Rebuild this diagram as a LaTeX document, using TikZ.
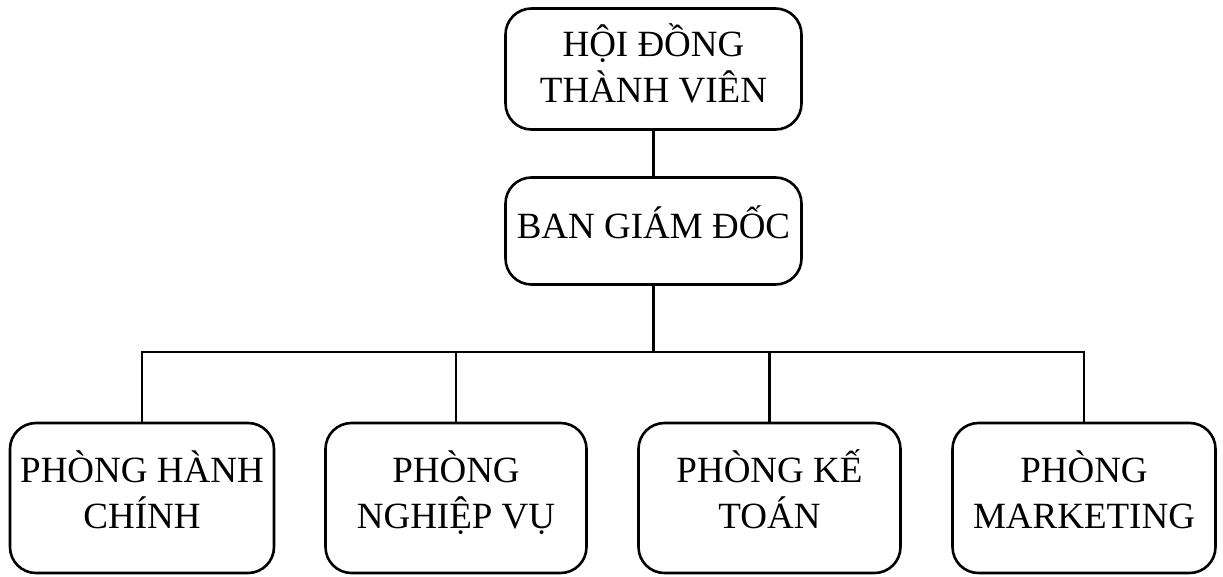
\documentclass[tikz,border=0pt]{standalone}
\usepackage{fontspec}
\setmainfont{Liberation Serif}
\begin{document}
\begin{tikzpicture}[x=1pt,y=-1pt,
  unit/.style={draw, line width=2.6pt, rounded corners=26pt, inner sep=0pt, align=center,
    font=\fontsize{37}{46}\selectfont, anchor=center, text depth=0pt},
  link/.style={line width=2.2pt}]
\useasboundingbox (0,0) rectangle (1223,576);
\node[unit, minimum width=296pt, minimum height=121pt, text height=66pt] (hdtv) at (653.5,69) {HỘI ĐỒNG\\THÀNH VIÊN};
\node[unit, minimum width=296pt, minimum height=107pt, text height=14pt] (bgd) at (653.5,231) {BAN GIÁM ĐỐC};
\node[unit, minimum width=264pt, minimum height=150pt, text height=60pt] (b1) at (142,498) {PHÒNG HÀNH\\CHÍNH};
\node[unit, minimum width=261pt, minimum height=150pt, text height=60pt] (b2) at (456,498) {PHÒNG\\NGHIỆP VỤ};
\node[unit, minimum width=262pt, minimum height=150pt, text height=60pt] (b3) at (769.5,498) {PHÒNG KẾ\\TOÁN};
\node[unit, minimum width=263pt, minimum height=150pt, text height=60pt] (b4) at (1084,498) {PHÒNG\\MARKETING};
\coordinate (bus) at (653,352);
\draw[link] (hdtv.south) -- (bgd.north);
\draw[link] (bgd.south) -- (bgd.south |- bus);
\draw[link] (b1.north) |- (b4.north |- bus) -- (b4.north);
\draw[link] (b2.north) -- (b2.north |- bus);
\draw[link] (b3.north) -- (b3.north |- bus);
\end{tikzpicture}
\end{document}
